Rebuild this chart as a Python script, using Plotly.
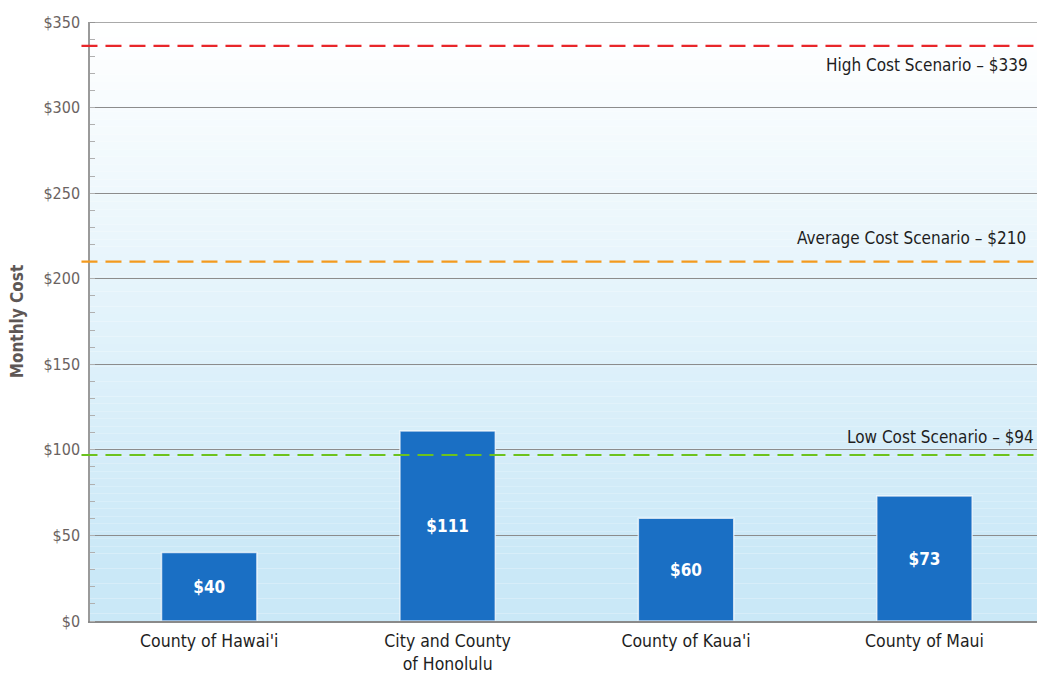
import plotly.graph_objects as go

# ---- data ----
categories = ["County of Hawai'i", "City and County<br>of Honolulu", "County of Kaua'i", "County of Maui"]
monthly_cost = [40, 111, 60, 73]
bar_labels = ["$40", "$111", "$60", "$73"]

scenario_names = ["High Cost Scenario – $339", "Average Cost Scenario – $210", "Low Cost Scenario – $94"]
scenario_levels = [336, 210, 97]          # where the dashed lines are drawn
scenario_label_y = [325, 224, 107.5]      # label anchor positions (value units)
scenario_colors = ["#e8262a", "#f39a1e", "#6cc21e"]

y_tickvals = [0, 50, 100, 150, 200, 250, 300, 350]
y_ticktext = ["$0", "$50", "$100", "$150", "$200", "$250", "$300", "$350"]

FONT = "Liberation Sans Narrow, DejaVu Sans Condensed, Arial Narrow, sans-serif"

fig = go.Figure()
fig.add_trace(go.Bar(
    x=list(range(len(categories))), y=monthly_cost,
    width=0.4,
    marker=dict(color="#1a6fc4", line=dict(color="rgba(255,255,255,0.7)", width=1.5)),
    text=bar_labels, textposition="inside", insidetextanchor="middle",
    textfont=dict(family=FONT, size=17, color="white", weight="bold"),
    cliponaxis=False, hoverinfo="skip",
))

shapes = []
# vertical gradient background (white at top -> light blue at bottom)
n = 80
top = (255, 255, 255)
bot = (202, 232, 247)
for i in range(n):
    t = i / (n - 1)
    tt = min(1.0, t * 1.1)
    c = tuple(int(round(top[k] + (bot[k] - top[k]) * tt)) for k in range(3))
    shapes.append(dict(type="rect", xref="paper", yref="paper",
                       x0=0, x1=1, y0=1 - (i + 1) / n, y1=1 - i / n,
                       fillcolor="rgb(%d,%d,%d)" % c, line=dict(width=0), layer="below"))

# top border line at the axis maximum
shapes.append(dict(type="line", xref="paper", yref="y", x0=0, x1=1, y0=y_tickvals[-1], y1=y_tickvals[-1],
                   line=dict(color="#8c8c8c", width=1.5), layer="above"))

for lvl, col in zip(scenario_levels, scenario_colors):
    shapes.append(dict(type="line", xref="paper", yref="y", x0=-0.009, x1=1, y0=lvl, y1=lvl,
                       line=dict(color=col, width=2.2, dash="16px,8px"), layer="above"))

annotations = []
anchors = [(1030, "right"), (1028, "right"), (845, "left")]
for name, ly, (px, xa) in zip(scenario_names, scenario_label_y, anchors):
    annotations.append(dict(text=name, xref="paper", yref="y", x=(px - 90) / 947, y=ly,
                            xanchor=xa, yanchor="middle", showarrow=False,
                            font=dict(family=FONT, size=17, color="#1e1e1e")))

fig.update_layout(
    width=1037, height=673,
    margin=dict(l=90, r=0, t=22, b=52),
    paper_bgcolor="white", plot_bgcolor="rgba(0,0,0,0)",
    showlegend=False, bargap=0.6,
    shapes=shapes, annotations=annotations,
    font=dict(family=FONT),
)
fig.update_xaxes(
    range=[-0.5, 3.472], tickvals=list(range(len(categories))), ticktext=categories,
    showgrid=False, showline=True, linecolor="#8a8a8a", linewidth=1.5,
    tickfont=dict(family=FONT, size=17.5, color="#1e1e1e"), ticks="", zeroline=False,
    ticklabelstandoff=3,
)
fig.update_yaxes(
    range=[0, 350], tickvals=y_tickvals, ticktext=y_ticktext,
    showgrid=True, gridcolor="#8c8c8c", gridwidth=1.3,
    showline=True, linecolor="#9a9a9a", linewidth=1.5,
    ticks="", ticklen=5, tickcolor="#9a9a9a",
    minor=dict(dtick=10, ticks="inside", ticklen=5, tickcolor="#b0b0b0", showgrid=False),
    tickfont=dict(family=FONT, size=16, color="#6b6361"),
    ticklabelstandoff=5,
    title=dict(text="<b>Monthly Cost</b>", font=dict(family=FONT, size=17, color="#5e5755"), standoff=15),
    zeroline=False,
)

fig.write_html("out.html", config={"displayModeBar": False},
               post_script="document.body.style.margin='0';document.body.style.overflow='hidden';")
